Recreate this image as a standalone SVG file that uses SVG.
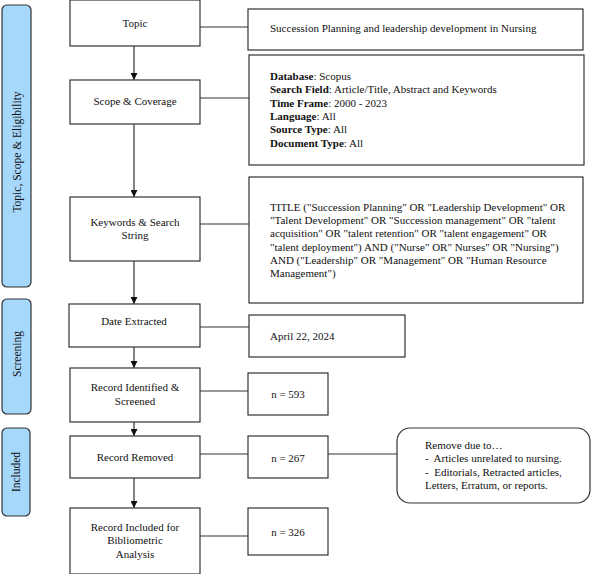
<svg xmlns="http://www.w3.org/2000/svg" width="591" height="574" viewBox="0 0 591 574">
<style>
.box{fill:#fff;stroke:#333;stroke-width:1.2}
.side{fill:#a6d8fb;stroke:#333;stroke-width:1.2}
.t{font-family:"Liberation Serif",serif;font-size:11px;fill:#111}
.s{font-size:11.5px}
.c{text-anchor:middle}
.b{font-weight:bold}
.ln{stroke:#333;stroke-width:1.2;fill:none}
</style>
<defs>
<marker id="ah" markerWidth="8" markerHeight="7" refX="7" refY="3.5" orient="auto" markerUnits="userSpaceOnUse">
<path d="M0,0 L7,3.5 L0,7 Z" fill="#111"/>
</marker>
</defs>
<rect width="591" height="574" fill="#fff"/>
<g id="side-topic"><rect class="side" x="2" y="5" width="29" height="282" rx="5"/><text class="t s c" transform="translate(20.5,152) rotate(-90)">Topic, Scope &amp; Eligibility</text></g>
<g id="side-screening"><rect class="side" x="2" y="299" width="29" height="115" rx="5"/><text class="t s c" transform="translate(20.5,354) rotate(-90)">Screening</text></g>
<g id="side-included"><rect class="side" x="2" y="428" width="28" height="88" rx="5"/><text class="t s c" transform="translate(20,472) rotate(-90)">Included</text></g>

<g id="connectors">
<line class="ln" x1="134" y1="46" x2="134" y2="80" marker-end="url(#ah)"/>
<line class="ln" x1="134" y1="124" x2="134" y2="197" marker-end="url(#ah)"/>
<line class="ln" x1="134" y1="261" x2="134" y2="304" marker-end="url(#ah)"/>
<line class="ln" x1="134" y1="347" x2="134" y2="368" marker-end="url(#ah)"/>
<line class="ln" x1="134" y1="422" x2="134" y2="436" marker-end="url(#ah)"/>
<line class="ln" x1="134" y1="478" x2="134" y2="508" marker-end="url(#ah)"/>
<line class="ln" x1="200" y1="27" x2="248" y2="27"/>
<line class="ln" x1="200" y1="98" x2="249" y2="98"/>
<line class="ln" x1="200" y1="224" x2="249" y2="224"/>
<line class="ln" x1="200" y1="327" x2="249" y2="327"/>
<line class="ln" x1="200" y1="391" x2="248" y2="391"/>
<line class="ln" x1="200" y1="454" x2="248" y2="454"/>
<line class="ln" x1="200" y1="536" x2="248" y2="536"/>
<line class="ln" x1="328" y1="454" x2="397" y2="454"/>
</g>

<g id="topic"><rect class="box" x="70" y="0" width="130" height="46"/><text class="t c" x="135" y="27">Topic</text></g>
<g id="scope"><rect class="box" x="70" y="80" width="130" height="44"/><text class="t c" x="135" y="105">Scope &amp; Coverage</text></g>
<g id="keywords"><rect class="box" x="70" y="197" width="130" height="64"/><text class="t c" x="135" y="226">Keywords &amp; Search</text><text class="t c" x="135" y="239">String</text></g>
<g id="date"><rect class="box" x="69" y="304" width="131" height="43"/><text class="t c" x="134" y="325">Date Extracted</text></g>
<g id="identified"><rect class="box" x="70" y="368" width="130" height="54"/><text class="t c" x="135" y="391">Record Identified &amp;</text><text class="t c" x="135" y="405">Screened</text></g>
<g id="removed"><rect class="box" x="70" y="436" width="130" height="42"/><text class="t c" x="135" y="461">Record Removed</text></g>
<g id="included"><rect class="box" x="70" y="508" width="130" height="66"/><text class="t c" x="135" y="531">Record Included for</text><text class="t c" x="135" y="544">Bibliometric</text><text class="t c" x="135" y="558">Analysis</text></g>

<g id="topic-detail"><rect class="box" x="248" y="9" width="335" height="41"/><text class="t" x="270" y="32">Succession Planning and leadership development in Nursing</text></g>
<g id="scope-detail"><rect class="box" x="249" y="55" width="335" height="110"/>
<text class="t" x="270" y="80"><tspan class="b">Database</tspan>: Scopus</text>
<text class="t" x="270" y="93"><tspan class="b">Search Field</tspan>: Article/Title, Abstract and Keywords</text>
<text class="t" x="270" y="107"><tspan class="b">Time Frame</tspan>: 2000 - 2023</text>
<text class="t" x="270" y="120"><tspan class="b">Language</tspan>: All</text>
<text class="t" x="270" y="133"><tspan class="b">Source Type</tspan>: All</text>
<text class="t" x="270" y="147"><tspan class="b">Document Type</tspan>: All</text>
</g>
<g id="keywords-detail"><rect class="box" x="249" y="177" width="334" height="126"/>
<text class="t" x="270" y="211">TITLE ("Succession Planning" OR "Leadership Development" OR</text>
<text class="t" x="270" y="224">"Talent Development" OR "Succession management" OR "talent</text>
<text class="t" x="270" y="237">acquisition" OR "talent retention" OR "talent engagement" OR</text>
<text class="t" x="270" y="251">"talent deployment") AND ("Nurse" OR" Nurses" OR "Nursing")</text>
<text class="t" x="270" y="264">AND ("Leadership" OR "Management" OR "Human Resource</text>
<text class="t" x="270" y="277">Management")</text>
</g>
<g id="date-detail"><rect class="box" x="249" y="315" width="156" height="42"/><text class="t" x="270" y="340">April 22, 2024</text></g>
<g id="n593"><rect class="box" x="248" y="373" width="80" height="42"/><text class="t c" x="288" y="398">n = 593</text></g>
<g id="n267"><rect class="box" x="248" y="436" width="80" height="42"/><text class="t c" x="288" y="462">n = 267</text></g>
<g id="n326"><rect class="box" x="248" y="508" width="80" height="47"/><text class="t c" x="288" y="536">n = 326</text></g>
<g id="remove-reasons"><rect class="box" x="397" y="428" width="193" height="75" rx="13"/>
<text class="t" x="425" y="449">Remove due to…</text>
<text class="t" x="425" y="462" xml:space="preserve">-  Articles unrelated to nursing.</text>
<text class="t" x="425" y="476" xml:space="preserve">-  Editorials, Retracted articles,</text>
<text class="t" x="425" y="489">Letters, Erratum, or reports.</text>
</g>
</svg>
